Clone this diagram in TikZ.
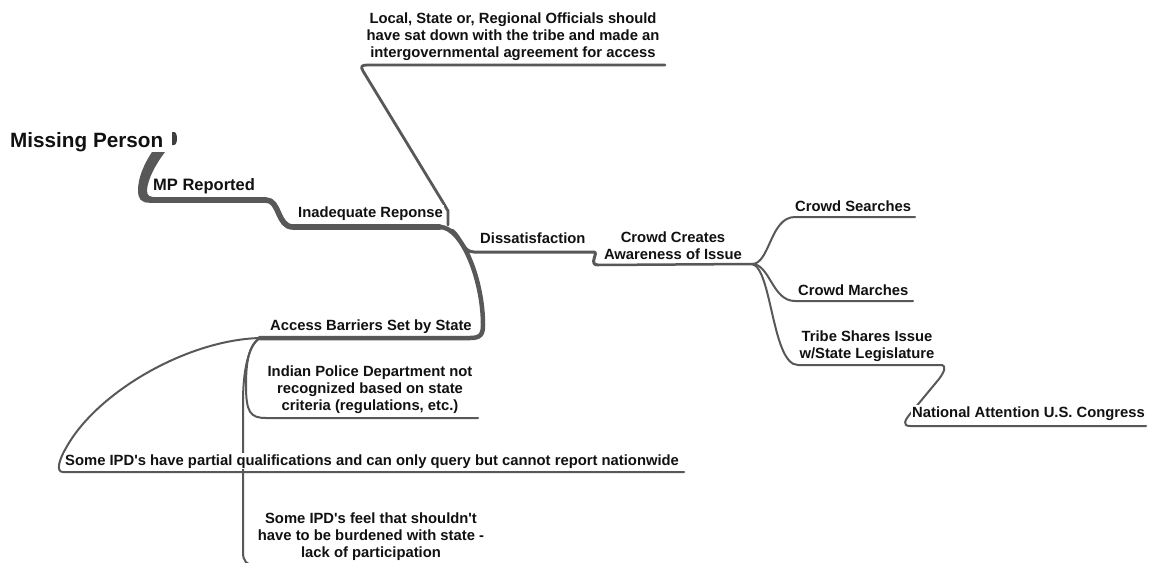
\documentclass[tikz,border=0pt]{standalone}
\usepackage{fontspec}
\setmainfont{Liberation Sans}
\definecolor{ln}{HTML}{585858}
\definecolor{nub}{HTML}{404040}
\definecolor{txt}{HTML}{111111}
\tikzset{
  lbl/.style={font=\bfseries\fontsize{14.8}{17}\selectfont, text=txt, inner sep=1pt, fill=white, align=center},
  br/.style={draw=ln, line width=2pt, line cap=round, line join=round},
}
\begin{document}
\begin{tikzpicture}[x=1pt,y=-1pt]
\useasboundingbox (0,0) rectangle (1150,562);

% junction coordinates
\coordinate (mpS) at (156,200);
\coordinate (mpE) at (266,200);
\coordinate (inS) at (293,227);
\coordinate (inE) at (440,227);
\coordinate (acE) at (470,338);
\coordinate (acJ) at (260,338);
\coordinate (disS) at (474,252);
\coordinate (disE) at (594,252);
\coordinate (crS) at (598,265);
\coordinate (crJ) at (752,264);
\coordinate (trE) at (942,365);

% root -> MP Reported (tapered start)
\fill[ln] (152,152) -- (165,152) .. controls (156,164) and (148,178) .. (147,190)
  .. controls (147,196) and (149,197) .. (157,197.2) -- (157,202.8) -- (150,202.8)
  .. controls (141,202.8) and (138,199) .. (138,190) .. controls (138,178) and (144,164) .. (152,152) -- cycle;
\draw[br, line width=5.6] (mpS) -- (mpE) .. controls (280,200) and (277,227) .. (inS) -- (inE);
% Inadequate -> Access Barriers
\draw[br, line width=4.5] (inE) .. controls (462,227) and (483,280) .. (483,325)
  .. controls (483,335) and (480,338) .. (acE) -- (acJ);
% Inadequate -> Local...
\draw[br, line width=2.8] (448,225) -- (448,211) -- (444,204) -- (363,71)
  .. controls (360,66) and (362,65) .. (368,65) -- (665,65);
% Inadequate -> Dissatisfaction -> Crowd Creates
\draw[br, line width=3] (452,230) .. controls (461,236) and (462,252) .. (disS) -- (disE)
  .. controls (599,252) and (588,265) .. (crS);
\draw[br, line width=2.5] (crS) -- (crJ);
% Crowd Creates children
\draw[br] (crJ) .. controls (770,264) and (770,217) .. (795,217) -- (915,217);
\draw[br] (crJ) .. controls (770,264) and (772,301) .. (795,301) -- (913,301);
\draw[br] (crJ) .. controls (772,268) and (772,365) .. (798,365) -- (trE);
\draw[br] (trE) .. controls (946,366) and (945,371) .. (939,379) -- (910,414)
  .. controls (905,420) and (902,426) .. (910,426) -- (1146,426);
% Access Barriers children
\draw[br] (acJ) .. controls (249,344) and (246,362) .. (246,385)
  .. controls (246,412) and (250,418) .. (266,418) -- (478,418);
\draw[br] (acJ) .. controls (186,340) and (96,393) .. (66,448)
  .. controls (60,458) and (55,472) .. (63,472) -- (684,472);
\draw[br] (acJ) .. controls (248,345) and (243,372) .. (243,402) -- (243,552)
  .. controls (243,561) and (246,565) .. (256,565) -- (486,565);

% collapse nub on root
\fill[nub] (172,132) -- (174,132) .. controls (178,132) and (178,145) .. (174,145) -- (172,145) -- cycle;

% labels (multi-line labels: anchor base = baseline of last line)
\node[lbl, anchor=base west, font=\bfseries\fontsize{20.7}{24}\selectfont] (root) at (9,147) {Missing Person};
\node[lbl, anchor=base west, font=\bfseries\fontsize{16.5}{19}\selectfont] (mp) at (152,190) {MP Reported};
\node[lbl, anchor=base west] (inad) at (297,217) {Inadequate Reponse};
\node[lbl, anchor=base] (local) at (513,57) {Local, State or, Regional Officials should\\have sat down with the tribe and made an\\intergovernmental agreement for access};
\node[lbl, anchor=base west] (dis) at (479,243) {Dissatisfaction};
\node[lbl, anchor=base] (crowd) at (673,259) {Crowd Creates\\Awareness of Issue};
\node[lbl, anchor=base west] (search) at (794,211) {Crowd Searches};
\node[lbl, anchor=base west] (march) at (797,295) {Crowd Marches};
\node[lbl, anchor=base] (tribe) at (867,358) {Tribe Shares Issue\\w/State Legislature};
\node[lbl, anchor=base west] (nat) at (911,417) {National Attention U.S. Congress};
\node[lbl, anchor=base west] (access) at (269,330) {Access Barriers Set by State};
\node[lbl, anchor=base] (indian) at (370,410) {Indian Police Department not\\recognized based on state\\criteria (regulations, etc.)};
\node[lbl, anchor=base west] (partial) at (64,465) {Some IPD\textquotesingle s have partial qualifications and can only query but cannot report nationwide};
\node[lbl, anchor=base] (feel) at (371,557) {Some IPD\textquotesingle s feel that shouldn\textquotesingle t\\have to be burdened with state -\\lack of participation};
\end{tikzpicture}
\end{document}
